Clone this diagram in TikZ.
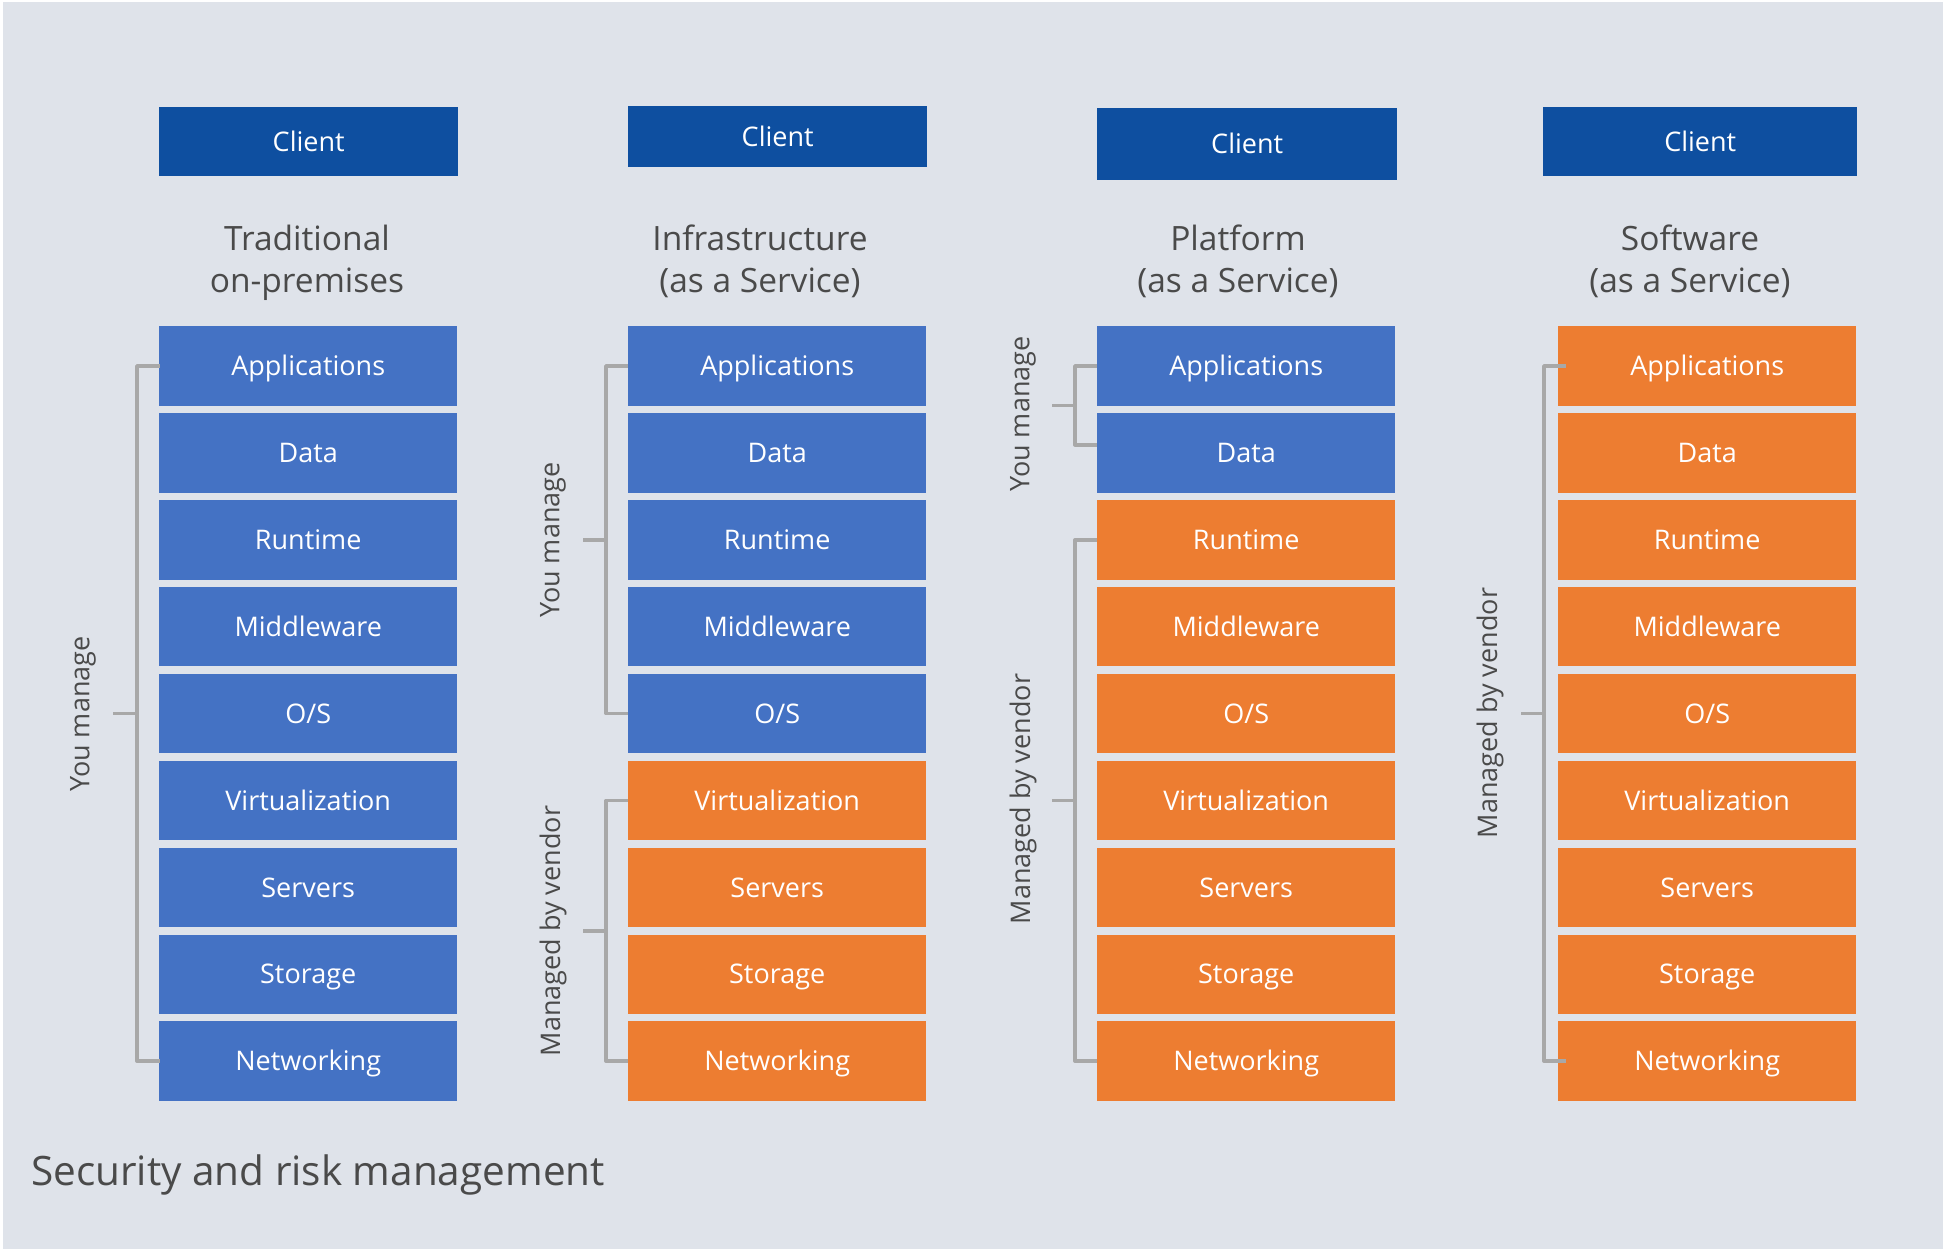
\documentclass[tikz,border=0pt]{standalone}
\usepackage{fontspec}
\setmainfont{Open Sans}
\usetikzlibrary{calc}
\definecolor{bgc}{HTML}{DFE3EA}
\definecolor{clientblue}{HTML}{0E4FA0}
\definecolor{boxblue}{HTML}{4472C4}
\definecolor{boxorange}{HTML}{ED7D31}
\definecolor{txtgray}{HTML}{4A4A4A}
\definecolor{brkgray}{HTML}{A8A8A8}
\begin{document}
\begin{tikzpicture}[x=1pt,y=-1pt,
  layer/.style={draw=none, minimum width=298pt, minimum height=79.5pt, inner sep=0pt,
    anchor=north west, text=white, font=\fontsize{27}{32}\selectfont,
    text height=19.3pt, text depth=0pt},
  blu/.style={layer, fill=boxblue},
  org/.style={layer, fill=boxorange},
  clientbox/.style={fill=clientblue, inner sep=0pt, anchor=north west, text=white,
    font=\fontsize{27}{32}\selectfont, text height=19.3pt, text depth=0pt},
  title/.style={text=txtgray, font=\fontsize{33.5}{41}\selectfont, anchor=base, inner sep=0pt},
  brk/.style={draw=brkgray, line width=3.5pt, line join=round},
  side/.style={text=txtgray, rotate=90, font=\fontsize{27}{32}\selectfont, inner sep=0pt}
]
\useasboundingbox (0,0) rectangle (1943,1249);
\fill[white] (0,0) rectangle (1943,1249);
\fill[bgc] (3,2) rectangle (1943,1249);

% clients
\node[clientbox, minimum width=299pt, minimum height=69pt] (cl1) at (159,107) {Client};
\node[clientbox, minimum width=299pt, minimum height=61pt] (cl2) at (628,106) {Client};
\node[clientbox, minimum width=300pt, minimum height=72pt] (cl3) at (1097,108) {Client};
\node[clientbox, minimum width=314pt, minimum height=69pt] (cl4) at (1543,107) {Client};

% titles
\node[title] (t1a) at (307,251) {Traditional};
\node[title] (t1b) at (307,292) {on-premises};
\node[title] (t2a) at (760,251) {Infrastructure};
\node[title] (t2b) at (760,292) {(as a Service)};
\node[title] (t3a) at (1238,251) {Platform};
\node[title] (t3b) at (1238,292) {(as a Service)};
\node[title] (t4a) at (1690,251) {Software};
\node[title] (t4b) at (1690,292) {(as a Service)};

% stacks
\foreach \col/\x/\nb in {1/159/9, 2/628/5, 3/1097/2, 4/1558/0}{
  \foreach \name [count=\i] in {Applications,Data,Runtime,Middleware,O/S,Virtualization,Servers,Storage,Networking}{
    \ifnum\i>\nb \def\sty{org}\else\def\sty{blu}\fi
    \node[\sty] (b\col-\i) at (\x,{326+86.9*(\i-1)}) {\name};
  }
}

% brackets column 1
\draw[brk] ($(b1-1.west)+(1,0)$) -- ++(-23,0) |- ($(b1-9.west)+(1,0)$);
\coordinate (m1) at ($(b1-1.west)!.5!(b1-9.west)+(-22,0)$);
\coordinate (m1e) at ($(m1)+(-24,0)$);
\draw[brk] (m1) -- (m1e);
\node[side] (l1) at (83,714) {You manage};

% column 2
\draw[brk] (b2-1.west) -- ++(-22,0) |- (b2-5.west);
\coordinate (m2) at ($(b2-1.west)!.5!(b2-5.west)+(-22,0)$);
\coordinate (m2e) at ($(m2)+(-23,0)$);
\draw[brk] (m2) -- (m2e);
\node[side] (l2) at (553,540) {You manage};

\draw[brk] (b2-6.west) -- ++(-22,0) |- (b2-9.west);
\coordinate (v2) at ($(b2-6.west)!.5!(b2-9.west)+(-22,0)$);
\coordinate (v2e) at ($(v2)+(-23,0)$);
\draw[brk] (v2) -- (v2e);
\node[side] (l2v) at (553,931) {Managed by vendor};

% column 3
\draw[brk] (b3-1.west) -- ++(-22,0) |- ($(b3-2.west)+(0,-8)$);
\coordinate (m3) at ($(b3-1.west)!.5!(b3-2.west)+(-22,-4)$);
\coordinate (m3e) at ($(m3)+(-23,0)$);
\draw[brk] (m3) -- (m3e);
\node[side] (l3) at (1023,414) {You manage};

\draw[brk] (b3-3.west) -- ++(-22,0) |- (b3-9.west);
\coordinate (v3) at ($(b3-3.west)!.5!(b3-9.west)+(-22,0)$);
\coordinate (v3e) at ($(v3)+(-23,0)$);
\draw[brk] (v3) -- (v3e);
\node[side] (l3v) at (1023,799) {Managed by vendor};

% column 4
\draw[brk] ($(b4-1.west)+(8,0)$) -- ++(-22,0) |- ($(b4-9.west)+(8,0)$);
\coordinate (v4) at ($(b4-1.west)!.5!(b4-9.west)+(-14,0)$);
\coordinate (v4e) at ($(v4)+(-23,0)$);
\draw[brk] (v4) -- (v4e);
\node[side] (l4v) at (1490,713) {Managed by vendor};

% footer
\node[text=txtgray, font=\fontsize{40.5}{48}\selectfont, anchor=base west, inner sep=0pt] (sec) at (31,1185) {Security and risk management};
\end{tikzpicture}
\end{document}
